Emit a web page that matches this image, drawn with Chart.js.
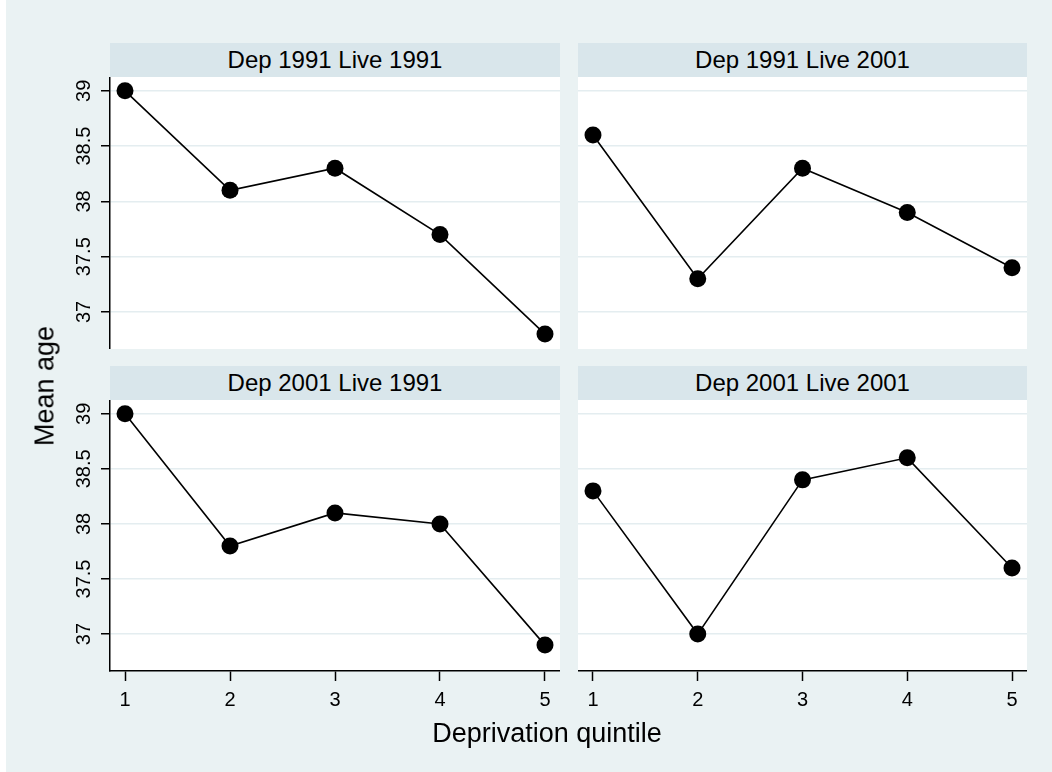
<!DOCTYPE html>
<html>
<head>
<meta charset="utf-8">
<script src="https://cdn.jsdelivr.net/npm/chart.js@4.4.1/dist/chart.umd.min.js"></script>
<style>
  html, body { margin: 0; padding: 0; background: #ffffff; }
  body { width: 1052px; height: 772px; position: relative; overflow: hidden;
         font-family: "Liberation Sans", Arial, sans-serif; color: #000; }
  #region { position: absolute; left: 6px; top: 0; width: 1046px; height: 772px; background: #eaf2f3; }
  canvas { position: absolute; }
  .strip { position: absolute; height: 34px; line-height: 34px; background: #d9e6eb;
           text-align: center; font-size: 24px; white-space: nowrap; }
  .title { position: absolute; font-size: 27px; white-space: nowrap; }
</style>
</head>
<body>
<div id="region"></div>

<div class="strip" id="s0" style="left:110px;top:43px;width:450px;"></div>
<div class="strip" id="s1" style="left:578px;top:43px;width:449px;"></div>
<div class="strip" id="s2" style="left:110px;top:366px;width:450px;"></div>
<div class="strip" id="s3" style="left:578px;top:366px;width:449px;"></div>

<canvas id="c0" width="500" height="272" style="left:60px;top:77px;"></canvas>
<canvas id="c1" width="449" height="272" style="left:578px;top:77px;"></canvas>
<canvas id="c2" width="500" height="321" style="left:60px;top:400px;"></canvas>
<canvas id="c3" width="449" height="321" style="left:578px;top:400px;"></canvas>

<div class="title" id="ytitle" style="left:45px;top:386px;transform:translate(-50%,-50%) rotate(-90deg);">Mean age</div>
<div class="title" id="xtitle" style="left:547px;top:733px;transform:translate(-50%,-50%);">Deprivation quintile</div>

<script>
// Deprivation quintiles on the x axis
const quintiles = [1, 2, 3, 4, 5];

// Panel headings
const panelTitles = ['Dep 1991 Live 1991', 'Dep 1991 Live 2001', 'Dep 2001 Live 1991', 'Dep 2001 Live 2001'];

// Mean age by quintile, one array per panel
const dep1991Live1991 = [39.0, 38.1, 38.3, 37.7, 36.8];
const dep1991Live2001 = [38.6, 37.3, 38.3, 37.9, 37.4];
const dep2001Live1991 = [39.0, 37.8, 38.1, 38.0, 36.9];
const dep2001Live2001 = [38.3, 37.0, 38.4, 38.6, 37.6];

// Axis ticks
const yTicks = [37, 37.5, 38, 38.5, 39];
const xTicks = [1, 2, 3, 4, 5];

const panelSeries = [dep1991Live1991, dep1991Live2001, dep2001Live1991, dep2001Live2001];

const FONT = '"Liberation Sans", Arial, sans-serif';
const GRID = '#e4edf0';

// White plot region behind the grid
const plotFill = {
  id: 'plotFill',
  beforeDraw(chart) {
    const a = chart.chartArea, ctx = chart.ctx;
    ctx.save();
    ctx.fillStyle = '#ffffff';
    ctx.fillRect(a.left, a.top, a.right - a.left, a.bottom - a.top);
    ctx.restore();
  }
};

// Vertical y tick labels, reading bottom to top
const verticalYLabels = {
  id: 'verticalYLabels',
  afterDraw(chart, args, opts) {
    if (!opts.show) return;
    const y = chart.scales.y, ctx = chart.ctx;
    const bx = chart.chartArea.left - 20;
    ctx.save();
    ctx.fillStyle = '#000';
    ctx.font = '20px ' + FONT;
    ctx.textAlign = 'center';
    ctx.textBaseline = 'alphabetic';
    y.ticks.forEach(t => {
      const py = y.getPixelForValue(t.value);
      ctx.save();
      ctx.translate(bx, py);
      ctx.rotate(-Math.PI / 2);
      ctx.fillText(String(t.value), 0, 0);
      ctx.restore();
    });
    ctx.restore();
  }
};

function makePanel(idx) {
  const leftCol = idx % 2 === 0;
  const bottomRow = idx >= 2;
  const values = panelSeries[idx];
  document.getElementById('s' + idx).textContent = panelTitles[idx];

  const ctx = document.getElementById('c' + idx).getContext('2d');
  return new Chart(ctx, {
    type: 'line',
    data: {
      datasets: [{
        data: quintiles.map((q, i) => ({ x: q, y: values[i] })),
        borderColor: '#000',
        borderWidth: 1.6,
        pointRadius: 8.5,
        pointHoverRadius: 8.5,
        pointBackgroundColor: '#000',
        pointBorderColor: '#000',
        pointBorderWidth: 0,
        tension: 0,
        clip: false
      }]
    },
    options: {
      responsive: false,
      animation: false,
      devicePixelRatio: 1,
      events: [],
      layout: { padding: 0, autoPadding: false },
      plugins: {
        legend: { display: false },
        tooltip: { enabled: false },
        title: { display: false },
        verticalYLabels: { show: leftCol }
      },
      scales: {
        x: {
          type: 'linear',
          min: 0.857,
          max: 5.143,
          display: bottomRow,
          afterBuildTicks(scale) { scale.ticks = xTicks.map(v => ({ value: v })); },
          afterFit(scale) { if (bottomRow) scale.height = 50; },
          grid: {
            drawOnChartArea: false,
            drawTicks: true,
            tickLength: 10,
            tickColor: '#000',
            tickWidth: 1.5
          },
          border: { display: true, color: '#000', width: 1.5 },
          ticks: {
            color: '#000',
            font: { family: FONT, size: 20 },
            padding: 7,
            maxRotation: 0,
            minRotation: 0
          }
        },
        y: {
          type: 'linear',
          min: 36.665,
          max: 39.125,
          afterBuildTicks(scale) { scale.ticks = yTicks.map(v => ({ value: v })); },
          afterFit(scale) { scale.width = leftCol ? 50 : 0; },
          grid: {
            color: GRID,
            lineWidth: 1.5,
            drawTicks: leftCol,
            tickLength: 9,
            tickColor: '#000',
            tickWidth: 1.5
          },
          border: { display: leftCol, color: '#000', width: 1.5 },
          ticks: { display: false }
        }
      }
    },
    plugins: [plotFill, verticalYLabels]
  });
}

[0, 1, 2, 3].forEach(makePanel);
</script>
</body>
</html>
